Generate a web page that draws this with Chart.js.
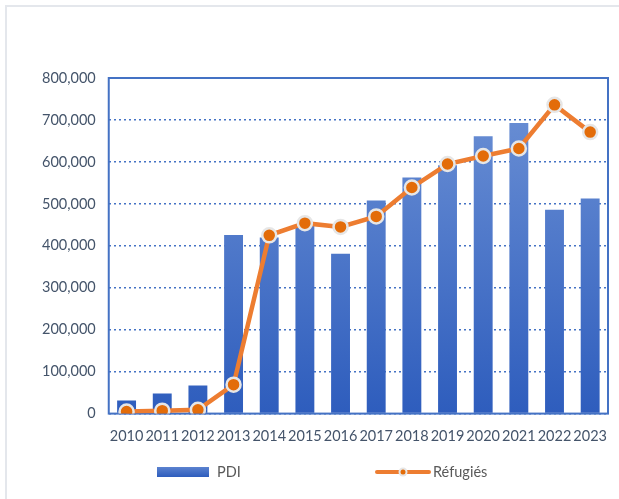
<!DOCTYPE html>
<html>
<head>
<meta charset="utf-8">
<script src="https://cdn.jsdelivr.net/npm/chart.js@4"></script>
<style>
  body { margin: 0; background: #fff; font-family: Lato, sans-serif; }
  #cadre { position: absolute; left: 5px; top: 5px; width: 700px; height: 600px; border-left: 2px solid #e4e7ec; border-top: 2px solid #e4e7ec; }
  #boite { position: absolute; left: 0; top: 0; width: 619px; height: 499px; }
  .legende { position: absolute; top: 463px; font-size: 14.5px; color: #595959; line-height: 18px; }
  .cle { position: absolute; }
</style>
</head>
<body>
<div id="cadre"></div>
<div id="boite"><canvas id="graphique" width="619" height="499"></canvas></div>
<canvas class="cle" id="clePDI" width="52" height="10" style="left:157px; top:467px"></canvas>
<div class="legende" id="textePDI" style="left:217px"></div>
<canvas class="cle" id="cleRefugies" width="56" height="12" style="left:375px; top:466px"></canvas>
<div class="legende" id="texteRefugies" style="left:433px"></div>
<script>
var annees = ['2010', '2011', '2012', '2013', '2014', '2015', '2016', '2017', '2018', '2019', '2020', '2021', '2022', '2023']
var pdi = [31000, 48000, 67000, 426000, 420000, 452000, 381000, 508000, 563000, 592000, 661000, 693000, 486000, 513000]
var refugies = [5000, 7000, 9000, 69000, 425000, 454000, 445000, 470000, 539000, 595000, 614000, 632000, 736000, 671000]
var series = ['PDI', 'Réfugiés']
var echelleMax = 800000
var echellePas = 100000

var bleu = '#4472C4'
var orange = '#ED7D31'

function degradeBarres(context){
    var chart = context.chart
    var zone = chart.chartArea
    if (!zone) {
        return bleu
    }
    var g = chart.ctx.createLinearGradient(0, zone.top, 0, zone.bottom)
    g.addColorStop(0, '#6f93d6')
    g.addColorStop(1, '#2e5dbd')
    return g
}

// legende en html, a cote du canvas
function legende(){
    document.getElementById('textePDI').innerText = series[0]
    document.getElementById('texteRefugies').innerText = series[1]

    var ctx = document.getElementById('clePDI').getContext('2d')
    var g = ctx.createLinearGradient(0, 0, 0, 10)
    g.addColorStop(0, '#5b82cf')
    g.addColorStop(1, '#2e5dbd')
    ctx.fillStyle = g
    ctx.fillRect(0, 0, 52, 10)

    ctx = document.getElementById('cleRefugies').getContext('2d')
    ctx.strokeStyle = orange
    ctx.lineWidth = 4
    ctx.lineCap = 'round'
    ctx.beginPath()
    ctx.moveTo(2, 6)
    ctx.lineTo(54, 6)
    ctx.stroke()
    ctx.beginPath()
    ctx.arc(28, 6, 4.5, 0, Math.PI * 2)
    ctx.fillStyle = '#e6e6e6'
    ctx.fill()
    ctx.beginPath()
    ctx.arc(28, 6, 2.5, 0, Math.PI * 2)
    ctx.fillStyle = '#E36C09'
    ctx.fill()
}
legende()

var cadrePlot = {
    id: 'cadrePlot',
    beforeDatasetsDraw: function(chart){
        var zone = chart.chartArea
        var ctx = chart.ctx
        ctx.save()
        ctx.strokeStyle = bleu
        ctx.lineWidth = 2
        ctx.strokeRect(zone.left, zone.top, zone.right - zone.left, zone.bottom - zone.top)
        ctx.restore()
    }
}

new Chart(document.getElementById('graphique'), {
    type: 'bar',
    data: {
        labels: annees,
        datasets: [{
            type: 'line',
            label: series[1],
            data: refugies,
            borderColor: orange,
            backgroundColor: orange,
            borderWidth: 4.5,
            pointRadius: 7,
            pointHoverRadius: 7,
            pointBackgroundColor: '#E36C09',
            pointBorderColor: '#e6e6e6',
            pointBorderWidth: 2.5,
            tension: 0,
            order: 1
        }, {
            type: 'bar',
            label: series[0],
            data: pdi,
            backgroundColor: degradeBarres,
            barPercentage: 0.53,
            categoryPercentage: 1,
            order: 2
        }]
    },
    options: {
        responsive: false,
        animation: false,
        layout: {
            padding: { left: 29, right: 11, top: 78, bottom: 48 }
        },
        plugins: {
            tooltip: { enabled: false },
            legend: { display: false }
        },
        scales: {
            x: {
                grid: { display: false },
                border: { display: false },
                ticks: {
                    color: '#44546A',
                    font: { family: 'Lato', size: 14.5 },
                    padding: 6,
                    maxRotation: 0,
                    autoSkip: false
                }
            },
            y: {
                min: 0,
                max: echelleMax,
                grid: { color: bleu, lineWidth: 1.5, drawTicks: false },
                border: { display: false, dash: [2, 3] },
                ticks: {
                    stepSize: echellePas,
                    color: '#44546A',
                    font: { family: 'Lato', size: 14.5 },
                    padding: 13,
                    callback: function(v){
                        return v.toLocaleString('en-US')
                    }
                }
            }
        }
    },
    plugins: [cadrePlot]
})
</script>
</body>
</html>
